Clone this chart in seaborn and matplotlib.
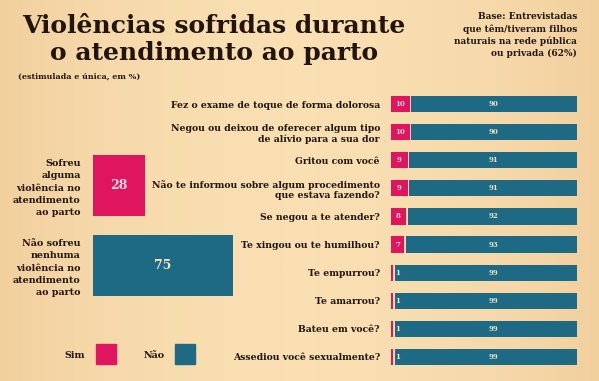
import numpy as np
import pandas as pd
import matplotlib
matplotlib.use('Agg')
import matplotlib.pyplot as plt
from matplotlib.lines import Line2D
import seaborn as sns

# data
categorias = [
    'Fez o exame de toque de forma dolorosa',
    'Negou ou deixou de oferecer algum tipo\nde alívio para a sua dor',
    'Gritou com você',
    'Não te informou sobre algum procedimento\nque estava fazendo?',
    'Se negou a te atender?',
    'Te xingou ou te humilhou?',
    'Te empurrou?',
    'Te amarrou?',
    'Bateu em você?',
    'Assediou você sexualmente?',
]
sim = [10, 10, 9, 9, 8, 7, 1, 1, 1, 1]
nao = [90, 90, 91, 91, 92, 93, 99, 99, 99, 99]

resumo_labels = ['Sofreu\nalguma\nviolência no\natendimento\nao parto',
                 'Não sofreu\nnenhuma\nviolência no\natendimento\nao parto']
resumo_vals = [28, 75]

PINK = '#DF155F'
TEAL = '#1E6A85'
BG = '#F8DCAE'
INK = '#221510'

sns.set_theme(style='white')
plt.rcParams['font.family'] = ['DejaVu Serif']

W, H = 599, 381
fig = plt.figure(figsize=(W / 100, H / 100), dpi=100)
fig.patch.set_facecolor(BG)

# soft wood-like tone in the background
bg_ax = fig.add_axes([0, 0, 1, 1], zorder=-10)
xs = np.linspace(-1, 1, 300)
grad = 1 - 0.5 * xs ** 2
bg_ax.imshow(grad[None, :], aspect='auto', extent=[0, 1, 0, 1],
             cmap=matplotlib.colors.LinearSegmentedColormap.from_list(
                 'wood', ['#F2D09E', '#F9DFB2']), vmin=0.5, vmax=1)
bg_ax.axis('off')


def px_axes(x0, y0, x1, y1):
    return fig.add_axes([x0 / W, 1 - y1 / H, (x1 - x0) / W, (y1 - y0) / H])


bar_kw = dict(saturation=1, orient='h', linewidth=0, edgecolor='none')

# ---- right panel: stacked bars ----
df = pd.DataFrame({'cat': categorias, 'sim': sim, 'nao': nao})
df['total'] = df['sim'] + df['nao']
df['gap'] = df['sim'] + 0.9

ax = px_axes(391, 90, 577, 371)
ax.patch.set_alpha(0)
sns.barplot(data=df, y='cat', x='total', color=TEAL, width=0.58, ax=ax, **bar_kw)
sns.barplot(data=df, y='cat', x='gap', color='#F7DAAA', width=0.6, ax=ax, **bar_kw)
sns.barplot(data=df, y='cat', x='sim', color=PINK, width=0.58, ax=ax, **bar_kw)
ax.set_xlim(0, 100)
ax.set_xlabel('')
ax.set_ylabel('')
ax.set_xticks([])
ax.tick_params(axis='y', length=0, pad=8)
ax.set_yticks(range(len(categorias)))
ax.set_yticklabels(categorias, fontsize=6.7, fontweight='bold', color=INK,
                   linespacing=1.2)
for s in ax.spines.values():
    s.set_visible(False)

for i, (s, n) in enumerate(zip(sim, nao)):
    if s >= 5:
        ax.text(s / 2, i, str(s), ha='center', va='center', fontsize=5,
                fontweight='bold', color='#F8D6E0')
    else:
        ax.text(s + 1.2, i, str(s), ha='left', va='center', fontsize=5,
                fontweight='bold', color='#F3E9C8')
    ax.text(55, i, str(n), ha='center', va='center', fontsize=5,
            fontweight='bold', color='#F0E4BE')

# ---- left panel: summary ----
ax2 = px_axes(93, 145.5, 279, 305.5)
ax2.patch.set_alpha(0)
dfr = pd.DataFrame({'lab': resumo_labels, 'val': resumo_vals})
sns.barplot(data=dfr, y='lab', x='val', hue='lab', palette=[PINK, TEAL],
            width=0.76, legend=False, ax=ax2, **bar_kw)
ax2.set_xlim(0, 100)
ax2.set_xlabel('')
ax2.set_ylabel('')
ax2.set_xticks([])
ax2.tick_params(axis='y', length=0, pad=9)
ax2.set_yticks(range(len(resumo_labels)))
ax2.set_yticklabels(resumo_labels, fontsize=6.9, fontweight='bold',
                    color=INK, linespacing=1.45)
for s in ax2.spines.values():
    s.set_visible(False)
for i, v in enumerate(resumo_vals):
    ax2.text(v / 2, i, str(v), ha='center', va='center', fontsize=9,
             fontweight='bold', color='#F8DCE4' if i == 0 else '#F0E4BE')

# ---- titles ----
fig.text(214 / W, 1 - 26 / H, 'Violências sofridas durante',
         ha='center', va='center', fontsize=18, fontweight='black', color=INK)
fig.text(214 / W, 1 - 53 / H, 'o atendimento ao parto',
         ha='center', va='center', fontsize=18, fontweight='black', color=INK)
fig.text(18 / W, 1 - 77 / H, '(estimulada e única, em %)',
         ha='left', va='center', fontsize=5.8, fontweight='bold', color=INK)
fig.text(577 / W, 1 - 12 / H,
         'Base: Entrevistadas\nque têm/tiveram filhos\nnaturais na rede pública\nou privada (62%)',
         ha='right', va='top', fontsize=6.5, fontweight='bold', color=INK,
         linespacing=1.4)

# ---- legend ----
handles = [Line2D([], [], marker='s', linestyle='none', markersize=14,
                  markerfacecolor=PINK, markeredgecolor=PINK, label='Sim'),
           Line2D([], [], marker='s', linestyle='none', markersize=14,
                  markerfacecolor=TEAL, markeredgecolor=TEAL, label='Não')]
leg = fig.legend(handles=handles, loc='center left',
                 bbox_to_anchor=(56 / W, 1 - 355 / H), ncol=2,
                 markerfirst=False, frameon=False, columnspacing=3.0,
                 handletextpad=1.2, prop={'size': 6.8, 'weight': 'bold'})
for t in leg.get_texts():
    t.set_color(INK)

fig.savefig('out.png', dpi=100, facecolor=BG)
